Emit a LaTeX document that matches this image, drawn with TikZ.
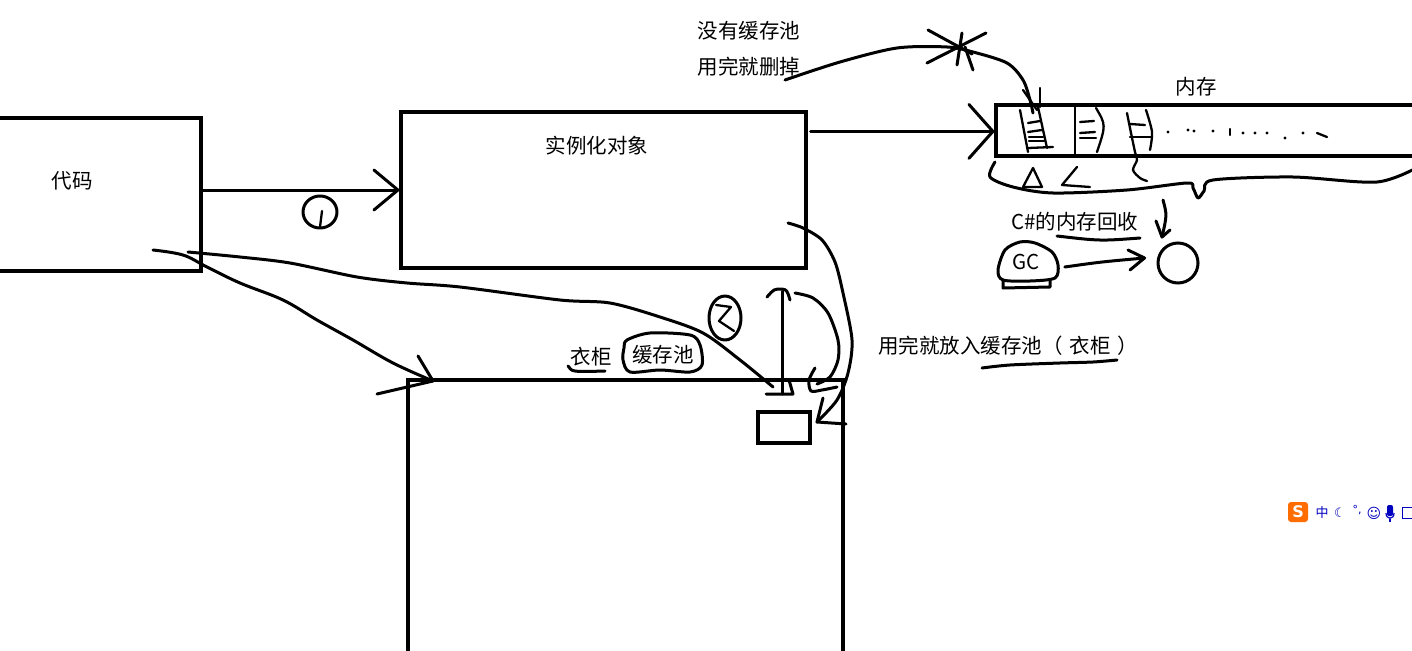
\documentclass[tikz,border=0pt]{standalone}
\usepackage{fontspec}
\newfontfamily\cjk{Noto Sans CJK SC}
\newfontfamily\dejavu{DejaVu Sans}
\usetikzlibrary{arrows.meta,calc}
\begin{document}
\begin{tikzpicture}[x=1pt,y=-1pt,
  pen/.style={line width=3pt,line cap=round,line join=round},
  fine/.style={line width=2.3pt,line cap=round,line join=round},
  boxstyle/.style={draw,line width=3.2pt,inner sep=0pt},
  lbl/.style={font=\cjk\fontsize{20.5}{24}\selectfont,inner sep=0pt},
  barb/.style={-{Straight Barb[length=24pt,width=#1,round]}},
  imeblue/.style={text=blue!75!black,inner sep=0pt}]
\useasboundingbox (0,0) rectangle (1412,650);
\fill[white] (0,0) rectangle (1412,650);
\clip (0,0) rectangle (1412,650);

% ---- boxes ----
\node[boxstyle,minimum width=215pt,minimum height=153pt] (code) at (93.5,194.5) {};
\node[lbl] (codet) at (72,181) {代码};
\node[boxstyle,minimum width=405pt,minimum height=156pt] (inst) at (603.5,190) {};
\node[lbl] (instt) at (597,146) {实例化对象};
\node[boxstyle,minimum width=440pt,minimum height=51pt] (mem) at (1216,130.5) {};
\node[lbl] (memt) at (1196,87) {内存};
\node[boxstyle,minimum width=435pt,minimum height=300pt] (cab) at (625.5,530) {};
\node[boxstyle,minimum width=52pt,minimum height=31pt] (slot) at (784,427.5) {};

% ---- texts ----
\node[lbl] (nopool1) at (749,31) {没有缓存池};
\node[lbl] (nopool2) at (749,67) {用完就删掉};
\node[lbl] (gcrec) at (1075,222) {C\#的内存回收};
\node[lbl] (gct) at (1026,262) {GC};
\node[lbl,anchor=west] (putin) at (878,346) {用完就放入缓存池（\hspace{7pt}衣柜\hspace{7pt}）};
\node[lbl] (wardrobe) at (591,357) {衣柜};
\node[lbl] (pool) at (663,355) {缓存池};

% ---- arrow 1 ----
\draw[pen,barb=40pt] (code.east |- inst.west) -- (inst.west);
\draw[pen] (320,212) ellipse [x radius=17, y radius=16];
\draw[fine] (322,211) -- (320,227);

% ---- arrow to memory ----
\coordinate (m1) at ($(inst.north east)+(3,21)$);
\draw[pen,barb=54pt] (m1) -- (m1 -| mem.west);

% ---- memory interior ----
\draw[fine] (1023,90) -- (1037,110);
\draw[fine] (1040,88) -- (1040,107);
\draw[fine] (1020,110) -- (1028,152);
\draw[fine] (1038,107) -- (1047,148);
\draw[fine] (1028,123) -- (1040,121);
\draw[fine] (1028,132) -- (1042,130);
\draw[fine] (1029,137) -- (1043,137);
\draw[fine] (1029,141) -- (1044,141);
\draw[fine] (1028,148) -- (1053,147);
\draw[fine] (1075,106) -- (1075,155);
\draw[fine] (1080,122) -- (1094,121);
\draw[fine] (1080,133) -- (1095,132);
\draw[fine] (1080,138) -- (1096,138);
\draw[fine] (1096,108) .. controls (1106,125) .. (1097,152);
\draw[fine] plot[smooth] coordinates {(1127,113) (1131,133) (1135,152) (1137,160) (1133,170) (1140,178) (1147,181)};
\draw[fine] plot[smooth] coordinates {(1146,110) (1152,132) (1150,150)};
\draw[fine] (1130,137) -- (1152,137);
\draw[fine] (1130,124) -- (1145,125);
\foreach \p in {(1168,132),(1188,130),(1194,131),(1213,131),(1243,133),(1255,133),(1267,133),(1285,138),(1303,133)}
  \fill \p circle (1.6);
\draw[fine] (1230,129) -- (1230,135);
\draw[fine] (1317,133) -- (1327,137);

% ---- brace below memory ----
\draw[pen] plot[smooth,tension=0.5] coordinates {(995,162) (990,177) (1013,187) (1053,193) (1127,190) (1187,183) (1193,188) (1198,198) (1204,191) (1213,180) (1293,177) (1377,182) (1420,166)};
\draw[fine] (1033,168) -- (1023,187) -- (1042,187) -- cycle;
\draw[fine] (1077,167) -- (1062,185) -- (1090,187);

% ---- GC ----
\draw[pen] (1163,200) .. controls (1167,215) .. (1162,237);
\draw[pen] (1156,221) -- (1162,237) -- (1170,230);
\node[draw,circle,line width=3pt,minimum size=40pt,inner sep=0pt] (heap) at (1178,263) {};
\draw[pen] (1057,236) .. controls (1100,241) .. (1140,238);
\draw[pen] plot[smooth cycle] coordinates {(998,270) (1005,250) (1020,242) (1035,243) (1052,252) (1058,265) (1055,278) (1030,281) (1003,280)};
\draw[pen] (1003,280) -- (1003,288) -- (1050,287) -- (1050,280);
\coordinate (g1) at ($(gct.east)+(25,5)$);
\draw[pen] (g1) .. controls (1100,262) .. ($(heap.west)+(-12,-5)$);
\draw[pen] (1128,250) -- ($(heap.west)+(-12,-5)$) -- (1130,270);

% ---- no pool: deleted ----
\draw[pen] plot[smooth] coordinates {(785,80) (840,62) (897,48) (947,47) (973,52) (1007,63) (1023,80) (1030,100) (1033,113)};
\draw[pen] (928,30) -- (972,54);
\draw[pen] (927,63) -- (986,33);
\draw[pen] (962,33) -- (957,65);
\draw[pen] (965,47) -- (973,70);

% ---- to wardrobe ----
\draw[pen] plot[smooth,tension=0.6] coordinates {(153,250) (183,255) (207,267) (240,283) (283,300) (317,320) (353,340) (393,363) (433,381)};
\draw[pen] (418,356) -- (433,381) -- (377,394);
\draw[pen] plot[smooth] coordinates {(188,252) (240,257) (290,263) (357,277) (407,283) (460,287) (560,300) (610,303) (660,317) (703,333) (740,360) (773,387)};
\draw[pen] (766,394) -- (793,394) -- (789,380);
\draw[pen] (782,394) -- (782,291);
\draw[pen] (767,297) .. controls (774,289) .. (782,289) .. controls (787,290) .. (790,300);
\draw[pen] (725,318) ellipse [x radius=16, y radius=22];
\draw[fine] (716,305) -- (731,307) -- (719,321) -- (734,331);
\draw[pen] plot[smooth] coordinates {(795,293) (813,298) (828,313) (838,340) (838,360) (830,377) (817,384)};
\draw[pen] plot[smooth] coordinates {(815,368) (809,380) (811,391) (822,390) (837,387)};
\draw[pen] plot[smooth] coordinates {(788,223) (803,228) (822,240) (835,262) (843,293) (852,340) (848,373) (837,400) (817,422)};
\draw[pen] (823,398) -- (817,422) -- (846,424);
\draw[pen] (568,366) .. controls (572,372) .. (605,371);
\draw[pen] plot[smooth cycle] coordinates {(627,340) (650,333) (690,335) (700,345) (702,365) (690,372) (660,370) (630,372) (623,360) (624,348)};
\draw[pen] plot[smooth] coordinates {(982,368) (1010,365) (1060,363) (1093,362) (1117,360)};

% ---- IME toolbar ----
\node[fill=orange!85!red,rounded corners=3pt,minimum size=20pt,inner sep=0pt,text=white,font=\dejavu\bfseries\fontsize{16}{16}\selectfont] (ime) at (1298,512) {S};
\node[imeblue,font=\cjk\fontsize{13}{13}\selectfont] (imezh) at (1322,513) {中};
\node[imeblue,font=\dejavu\fontsize{13}{13}\selectfont] (imemoon) at (1340,513) {☾};
\node[imeblue,font=\dejavu\fontsize{11}{11}\selectfont] (imedot) at (1357,510) {°,};
\node[imeblue,font=\dejavu\fontsize{14}{14}\selectfont] (imesmile) at (1374,513) {☺};
\fill[blue!75!black,rounded corners=2pt] (1387,505) rectangle (1393,516);
\draw[blue!75!black,line width=1.2pt] (1386,513) .. controls (1386,520) and (1394,520) .. (1394,513);
\draw[blue!75!black,line width=1.2pt] (1390,519) -- (1390,522);
\draw[blue!75!black,line width=1pt] (1402,507) rectangle (1414,518);
\end{tikzpicture}
\end{document}
